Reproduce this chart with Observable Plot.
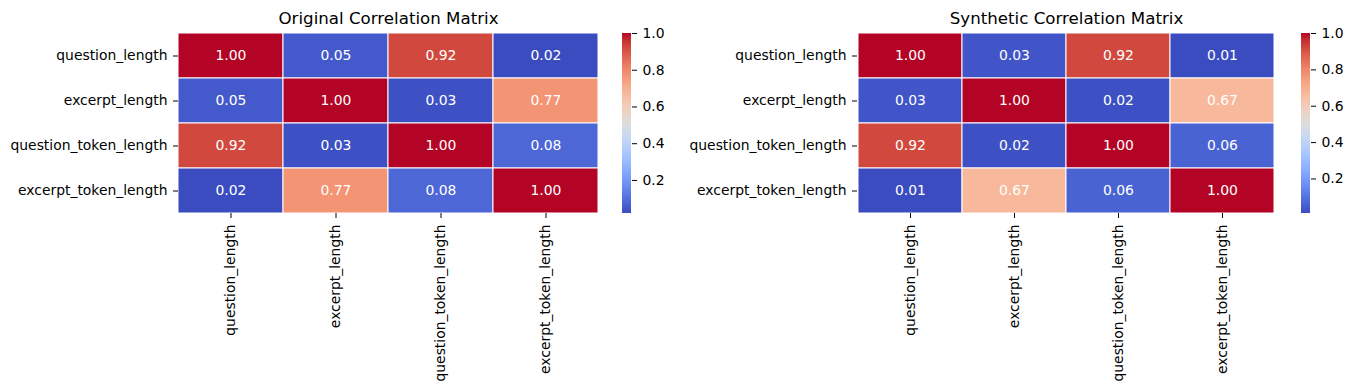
<!DOCTYPE html>
<html>
<head>
<meta charset="utf-8">
<script src="https://cdn.jsdelivr.net/npm/d3@7"></script>
<script src="https://cdn.jsdelivr.net/npm/@observablehq/plot@0.6"></script>
<style>
  html, body { margin: 0; padding: 0; background: white; }
  #root { position: relative; width: 1352px; height: 390px; overflow: hidden; }
  #root > svg { position: absolute; top: 0; }
</style>
</head>
<body>
<div id="root"></div>
<script>
const categories = ["question_length", "excerpt_length", "question_token_length", "excerpt_token_length"];
const originalValues = [
  [1.00, 0.05, 0.92, 0.02],
  [0.05, 1.00, 0.03, 0.77],
  [0.92, 0.03, 1.00, 0.08],
  [0.02, 0.77, 0.08, 1.00]
];
const syntheticValues = [
  [1.00, 0.03, 0.92, 0.01],
  [0.03, 1.00, 0.02, 0.67],
  [0.92, 0.02, 1.00, 0.06],
  [0.01, 0.67, 0.06, 1.00]
];
const colorbarTicks = [0.2, 0.4, 0.6, 0.8, 1.0];
const titles = ["Original Correlation Matrix", "Synthetic Correlation Matrix"];

// matplotlib "coolwarm" (Moreland) colour stops
const coolwarmStops = [
  [59,76,192],[68,90,204],[77,104,215],[87,117,225],[98,130,234],[108,142,241],
  [119,154,247],[130,165,251],[141,176,254],[152,185,255],[163,194,255],[174,201,253],
  [184,208,249],[194,213,244],[204,217,238],[213,219,230],[221,221,221],[229,216,209],
  [236,211,197],[241,204,184],[245,196,172],[247,187,159],[247,177,147],[247,166,134],
  [244,154,123],[241,141,111],[236,127,99],[229,112,88],[222,96,77],[213,80,66],
  [203,62,56],[192,40,47],[180,4,38]
].map(([r,g,b]) => `rgb(${r},${g},${b})`);
const coolwarm = d3.piecewise(d3.interpolateRgb, coolwarmStops);

const FONT = "DejaVu Sans";
const FS = 13.9;
const root = document.getElementById("root");

function heatmap(values, title, left, width, mLeft, mRight, cbLeft, cbWidth, cbMLeft, cbMRight) {
  const cells = [];
  values.forEach((row, i) => row.forEach((v, j) => cells.push({row: categories[i], col: categories[j], v})));
  const vmin = d3.min(cells, d => d.v);
  const colorOpts = {type: "linear", domain: [vmin, 1], interpolate: coolwarm};

  const svg = Plot.plot({
    width, height: 390,
    marginLeft: mLeft, marginRight: mRight, marginTop: 33, marginBottom: 177,
    style: {fontFamily: FONT, fontSize: FS + "px", color: "black", background: "transparent"},
    x: {domain: categories, padding: 0, label: null},
    y: {domain: categories, padding: 0, label: null},
    color: colorOpts,
    marks: [
      Plot.cell(cells, {x: "col", y: "row", fill: "v", stroke: "white", strokeWidth: 1}),
      Plot.text(cells, {x: "col", y: "row", text: d => d.v.toFixed(2), fill: "white", fontSize: FS}),
      Plot.axisX({anchor: "bottom", tickRotate: -90, tickSize: 5, tickPadding: 6, label: null, fontSize: FS}),
      Plot.axisY({anchor: "left", tickSize: 5, tickPadding: 6, label: null, fontSize: FS}),
      Plot.text([title], {frameAnchor: "top", lineAnchor: "middle", dy: -15, fontSize: 16.67, fill: "black"})
    ]
  });
  svg.style.left = left + "px";
  root.appendChild(svg);

  const N = 180;
  const steps = d3.range(N);
  const cb = Plot.plot({
    width: cbWidth, height: 390,
    marginLeft: cbMLeft, marginRight: cbMRight, marginTop: 33, marginBottom: 177,
    style: {fontFamily: FONT, fontSize: FS + "px", color: "black", background: "transparent"},
    y: {domain: [vmin, 1], label: null},
    color: colorOpts,
    marks: [
      Plot.rect(steps, {
        y1: i => vmin + (1 - vmin) * i / N,
        y2: i => vmin + (1 - vmin) * (i + 1) / N,
        fill: i => vmin + (1 - vmin) * (i + 0.5) / N,
        shapeRendering: "crispEdges"
      }),
      Plot.axisY(colorbarTicks, {anchor: "right", tickSize: 5, tickPadding: 6, tickFormat: d3.format(".1f"), label: null, fontSize: FS})
    ]
  });
  cb.style.left = cbLeft + "px";
  root.appendChild(cb);
}

heatmap(originalValues, titles[0], 0, 620, 178, 22, 600, 80, 22, 49);
heatmap(syntheticValues, titles[1], 680, 610, 177, 15, 1280, 72, 21, 42);
</script>
</body>
</html>
